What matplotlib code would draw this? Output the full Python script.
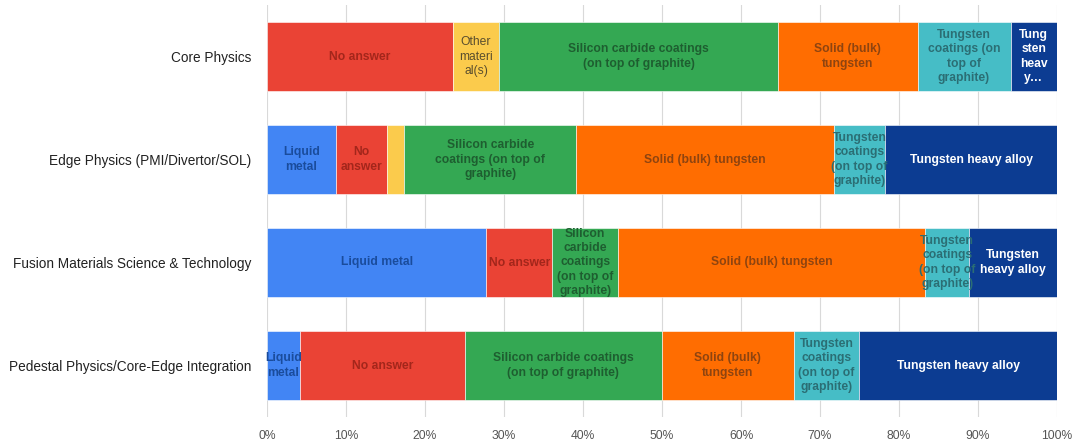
import matplotlib
matplotlib.use("Agg")
import matplotlib.pyplot as plt
import numpy as np

plt.rcParams['font.family'] = ['Liberation Sans', 'DejaVu Sans']

categories = ["Core Physics", "Edge Physics (PMI/Divertor/SOL)",
              "Fusion Materials Science & Technology",
              "Pedestal Physics/Core-Edge Integration"]
series = ["Liquid metal", "No answer", "Other material(s)",
          "Silicon carbide coatings (on top of graphite)",
          "Solid (bulk) tungsten", "Tungsten coatings (on top of graphite)",
          "Tungsten heavy alloy"]
# response counts per category, in series order
counts = {
    "Core Physics":                           [0, 4, 1, 6, 3, 2, 1],
    "Edge Physics (PMI/Divertor/SOL)":        [4, 3, 1, 10, 15, 3, 10],
    "Fusion Materials Science & Technology":  [10, 3, 0, 3, 14, 2, 4],
    "Pedestal Physics/Core-Edge Integration": [1, 5, 0, 6, 4, 2, 6],
}
# in-bar labels as wrapped in the reference
cell_labels = {
    "Core Physics": ["", "No answer", "Other\nmateri\nal(s)",
                     "Silicon carbide coatings\n(on top of graphite)",
                     "Solid (bulk)\ntungsten",
                     "Tungsten\ncoatings (on\ntop of\ngraphite)",
                     "Tung\nsten\nheav\ny\u2026"],
    "Edge Physics (PMI/Divertor/SOL)": ["Liquid\nmetal", "No\nanswer", "",
                     "Silicon carbide\ncoatings (on top of\ngraphite)",
                     "Solid (bulk) tungsten",
                     "Tungsten\ncoatings\n(on top of\ngraphite)",
                     "Tungsten heavy alloy"],
    "Fusion Materials Science & Technology": ["Liquid metal", "No answer", "",
                     "Silicon\ncarbide\ncoatings\n(on top of\ngraphite)",
                     "Solid (bulk) tungsten",
                     "Tungsten\ncoatings\n(on top of\ngraphite)",
                     "Tungsten\nheavy alloy"],
    "Pedestal Physics/Core-Edge Integration": ["Liquid\nmetal", "No answer", "",
                     "Silicon carbide coatings\n(on top of graphite)",
                     "Solid (bulk)\ntungsten",
                     "Tungsten\ncoatings\n(on top of\ngraphite)",
                     "Tungsten heavy alloy"],
}
tick_values = [0, 10, 20, 30, 40, 50, 60, 70, 80, 90, 100]

colors = ["#4285F4", "#EA4335", "#FBCB4C", "#34A853", "#FF6D01", "#46BDC6", "#0C3C92"]
text_colors = ["#1A4C9C", "#A3261B", "#5A4E2E", "#1E5E30", "#8E4410", "#2B6E74", "#FFFFFF"]
bold = [True, True, False, True, True, True, True]

fig = plt.figure(figsize=(10.77, 4.40), dpi=100)
ax = fig.add_axes([267/1077, 23/440, 790/1077, 412/440])

y = np.arange(len(categories))
for i, cat in enumerate(categories):
    vals = np.array(counts[cat], dtype=float)
    pct = vals / vals.sum() * 100
    left = 0.0
    for j, p in enumerate(pct):
        if p > 0:
            bars = ax.barh(i, p, left=left, height=0.67, color=colors[j],
                           edgecolor="white", linewidth=0.4, zorder=3)
            lab = cell_labels[cat][j]
            if lab:
                t = ax.text(left + p / 2, i, lab, ha="center", va="center",
                            color=text_colors[j], fontsize=8.7,
                            fontweight="bold" if bold[j] else "normal",
                            linespacing=1.25, zorder=4)
                t.set_clip_path(bars.patches[0])
        left += p

ax.set_xlim(0, 100)
ax.set_ylim(len(categories) - 0.5, -0.5)
ax.set_yticks(y)
ax.set_yticklabels(categories, fontsize=9.8, color="#222222")
ax.set_xticks(tick_values)
ax.set_xticklabels([f"{v}%" for v in tick_values], fontsize=8.7, color="#555555")
ax.tick_params(axis="both", length=0)
ax.tick_params(axis="y", pad=11)
ax.tick_params(axis="x", pad=9)
ax.grid(axis="x", color="#D9D9D9", linewidth=0.8, zorder=0)
for s in ax.spines.values():
    s.set_visible(False)

fig.savefig("out.png", dpi=100)
